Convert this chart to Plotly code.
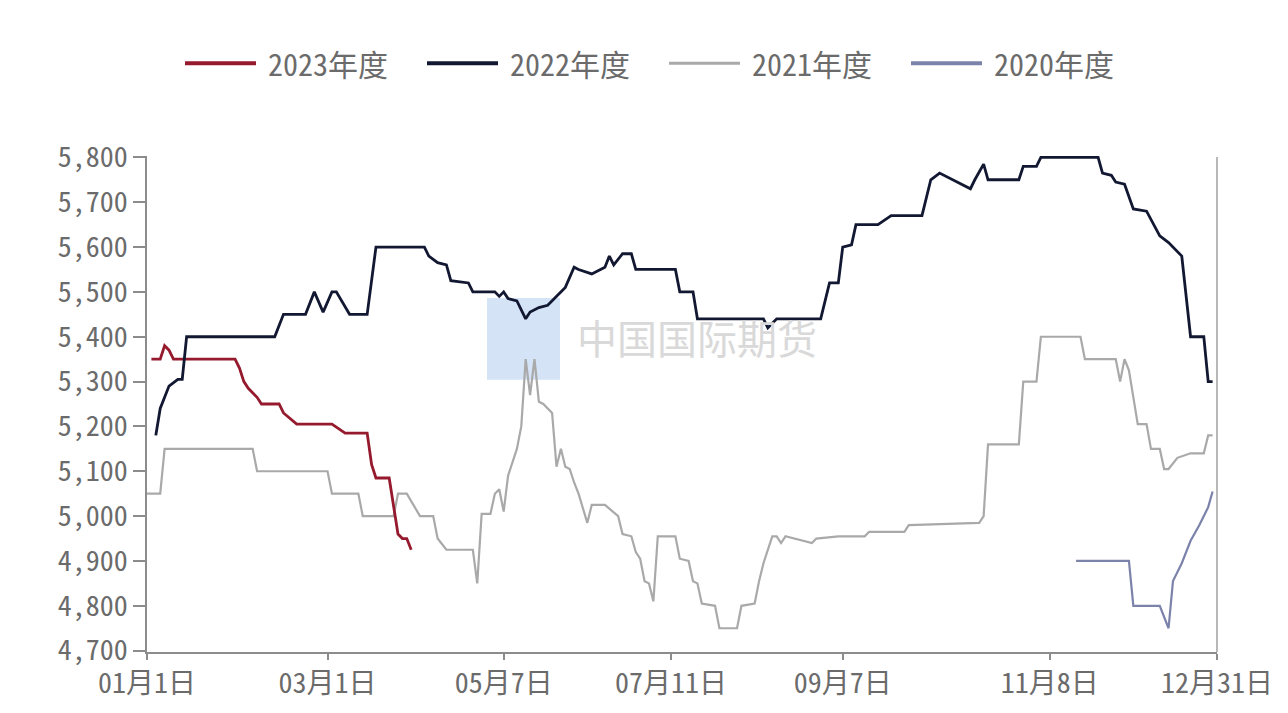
import plotly.graph_objects as go

# Trading-day index (0 = first session of the year) and price level per season
idx_2023 = [1, 3, 4, 5, 6, 20, 21, 22, 23, 25, 26, 30, 31, 34, 42, 45, 50, 51, 52, 55, 57, 58, 59, 60]
val_2023 = [5350, 5350, 5380, 5370, 5350, 5350, 5330, 5300, 5285, 5265, 5250, 5250, 5230, 5205,
            5205, 5185, 5185, 5115, 5085, 5085, 4960, 4950, 4950, 4925]

idx_2022 = [2, 3, 4, 5, 7, 8, 9, 29, 31, 36, 38, 40, 42, 43, 46, 50, 52, 63, 64, 66, 68, 69, 73, 74,
            79, 80, 81, 82, 84, 86, 87, 89, 91, 93, 95, 97, 98, 101, 104, 105, 106, 108, 110, 111,
            120, 121, 124, 125, 140, 141, 143, 153, 155, 157, 158, 160, 161, 166, 169, 176, 178,
            180, 187, 188, 190, 191, 198, 199, 202, 203, 216, 217, 219, 220, 222, 224, 227, 230,
            232, 235, 237, 240, 241, 242]
val_2022 = [5180, 5240, 5265, 5290, 5305, 5305, 5400, 5400, 5450, 5450, 5500, 5455, 5500, 5500,
            5450, 5450, 5600, 5600, 5580, 5565, 5560, 5525, 5520, 5500, 5500, 5490, 5500, 5485,
            5480, 5440, 5455, 5465, 5470, 5490, 5510, 5555, 5550, 5540, 5555, 5580, 5560, 5585,
            5585, 5550, 5550, 5500, 5500, 5440, 5440, 5420, 5440, 5440, 5520, 5520, 5600, 5605,
            5650, 5650, 5670, 5670, 5750, 5765, 5730, 5750, 5785, 5750, 5750, 5780, 5780, 5800,
            5800, 5765, 5760, 5745, 5740, 5685, 5680, 5625, 5610, 5580, 5400, 5400, 5300, 5300]

idx_2021 = [0, 3, 4, 24, 25, 41, 42, 48, 49, 56, 57, 59, 62, 65, 66, 68, 74, 75, 76, 78, 79, 80, 81,
            82, 84, 85, 86, 87, 88, 89, 90, 92, 93, 94, 95, 96, 97, 98, 100, 101, 104, 107, 108,
            110, 111, 112, 113, 114, 115, 116, 120, 121, 123, 124, 125, 126, 129, 130, 134, 135,
            138, 139, 140, 142, 143, 144, 145, 147, 151, 152, 157, 163, 164, 172, 173, 189, 190,
            191, 198, 199, 202, 203, 212, 213, 220, 221, 222, 223, 225, 227, 228, 230, 231, 232,
            234, 237, 240, 241, 242]
val_2021 = [5050, 5050, 5150, 5150, 5100, 5100, 5050, 5050, 5000, 5000, 5050, 5050, 5000, 5000,
            4950, 4925, 4925, 4850, 5005, 5005, 5050, 5060, 5010, 5090, 5150, 5200, 5350, 5270,
            5350, 5255, 5250, 5230, 5110, 5150, 5110, 5105, 5075, 5050, 4985, 5025, 5025, 5000,
            4960, 4955, 4920, 4905, 4855, 4850, 4810, 4955, 4955, 4905, 4900, 4855, 4850, 4805,
            4800, 4750, 4750, 4800, 4805, 4855, 4895, 4955, 4955, 4940, 4955, 4950, 4940, 4950,
            4955, 4955, 4965, 4965, 4980, 4985, 5000, 5160, 5160, 5300, 5300, 5400, 5400, 5350,
            5350, 5300, 5350, 5325, 5205, 5205, 5150, 5150, 5105, 5105, 5130, 5140, 5140, 5180,
            5180]

idx_2020 = [211, 223, 224, 230, 232, 233, 235, 237, 239, 241, 242]
val_2020 = [4900, 4900, 4800, 4800, 4750, 4855, 4895, 4945, 4980, 5020, 5055]

x_tick_pos = [0, 41, 81, 119, 158, 205, 243]
x_tick_text = ["01月1日", "03月1日", "05月7日", "07月11日", "09月7日", "11月8日", "12月31日"]
y_tick_vals = [4700, 4800, 4900, 5000, 5100, 5200, 5300, 5400, 5500, 5600, 5700, 5800]
y_tick_text = [f"{v:,}" for v in y_tick_vals]

# name, x, y, colour, width (legend order)
series = [
    ("2023年度", idx_2023, val_2023, "#961a2d", 2.8),
    ("2022年度", idx_2022, val_2022, "#121831", 2.8),
    ("2021年度", idx_2021, val_2021, "#a9a9a9", 2.2),
    ("2020年度", idx_2020, val_2020, "#7c83ab", 2.2),
]

W, H = 1288, 713
ML, MR, MT, MB = 147, 71, 156, 54
PW, PH = W - ML - MR, H - MT - MB

FONT = "Noto Sans Mono CJK SC, Noto Sans CJK SC, DejaVu Sans Mono, sans-serif"
TXT = "#6b6b6b"
AX = "#8c8c8c"

fig = go.Figure()

# older seasons first so the recent ones sit on top
for name, xs, ys, col, lw in [series[3], series[2], series[0], series[1]]:
    fig.add_trace(go.Scatter(x=xs, y=ys, mode="lines", name=name, showlegend=False,
                             line=dict(color=col, width=lw)))


def px_x(p):
    return (p - ML) / PW


def px_y(p):
    return (H - MB - p) / PH


shapes = []
annotations = []

# watermark: logo block and company name
shapes.append(dict(type="rect", xref="paper", yref="paper", layer="below",
                   x0=px_x(487), x1=px_x(560), y0=px_y(383), y1=px_y(300),
                   fillcolor="#d4e3f6", line=dict(width=0)))
annotations.append(dict(text="中国国际期货", xref="paper", yref="paper",
                        x=px_x(697), y=px_y(340), showarrow=False,
                        font=dict(family="Noto Sans CJK SC", size=40, color="#d9d9d9")))

# right-hand frame line
shapes.append(dict(type="line", xref="paper", yref="paper", x0=1, x1=1, y0=0, y1=px_y(157),
                   line=dict(color="#a0a0a0", width=1.5)))

# legend row drawn as line samples with labels
leg_y = px_y(62)
for i, (name, _, _, col, _) in enumerate(series):
    x0 = 185 + i * 242
    shapes.append(dict(type="line", xref="paper", yref="paper",
                       x0=px_x(x0), x1=px_x(x0 + 71), y0=leg_y, y1=leg_y,
                       line=dict(color=col, width=4 if i != 2 else 3)))
    annotations.append(dict(text=name, xref="paper", yref="paper", x=px_x(x0 + 81), y=leg_y,
                            xanchor="left", yanchor="middle", showarrow=False,
                            font=dict(family=FONT, size=30, color=TXT)))

fig.update_layout(
    width=W, height=H,
    margin=dict(l=ML, r=MR, t=MT, b=MB),
    paper_bgcolor="white", plot_bgcolor="white",
    showlegend=False,
    shapes=shapes, annotations=annotations,
    xaxis=dict(range=[0, 243], tickmode="array", tickvals=x_tick_pos, ticktext=x_tick_text,
               showgrid=False, zeroline=False, showline=True, linecolor=AX, linewidth=1.5,
               ticks="outside", ticklen=6, tickwidth=1.5, tickcolor=AX,
               tickfont=dict(family=FONT, size=28, color=TXT)),
    yaxis=dict(range=[4697, 5803], tickmode="array", tickvals=y_tick_vals, ticktext=y_tick_text,
               showgrid=False, zeroline=False, showline=True, linecolor=AX, linewidth=1.5,
               ticks="outside", ticklen=12, tickwidth=1.5, tickcolor=AX,
               tickfont=dict(family=FONT, size=28, color=TXT)),
)

fig.write_html("out.html")
